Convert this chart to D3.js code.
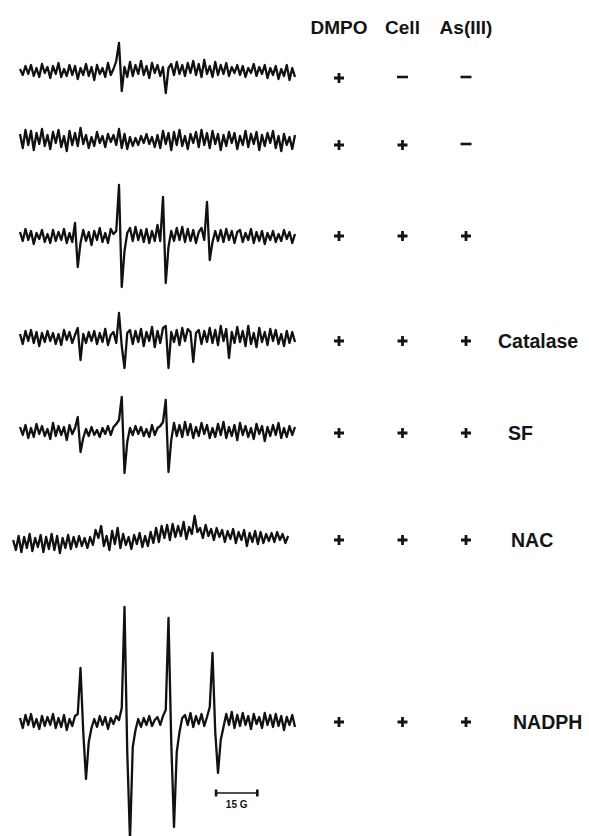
<!DOCTYPE html>
<html>
<head>
<meta charset="utf-8">
<script src="https://cdn.jsdelivr.net/npm/d3@7"></script>
<style>
  body { margin: 0; background: #fff; }
  text { font-family: "Liberation Sans", Arial, Helvetica, sans-serif; font-weight: bold; fill: #141414; }
</style>
</head>
<body>
<svg id="esr"></svg>
<script>
// ESR spectra (DMPO spin trap), signal, one value per gauss (0..100 G)
const trace1 = [
  2, -4, 5, -3, 6, -5, 3, -6, 7, -2,
  4, -7, 5, -3, 8, -6, 2, -5, 6, -4,
  5, -8, 3, -4, 7, -5, 4, -9, 6, -3,
  3, -6, 8, -4, 2, 10, 28, -20, 4, -6,
  9, -5, 6, -3, 10, -4, 5, -7, 8, -2,
  6, -5, 4, -22, 3, 7, -4, 9, -3, 6,
  -5, 8, -2, 10, -4, 7, -6, 11, -3, 5,
  -6, 9, -4, 6, -3, 8, -5, 4, -2, 6,
  -4, 5, -6, 3, -2, 7, -5, 4, -3, 6,
  -7, 3, -4, 5, -8, 2, -5, 6, -9, 3,
  -6
];
const trace2 = [
  6, -8, 10, -5, 9, -10, 7, -4, 11, -6,
  5, -9, 8, -3, 10, -7, 4, -11, 9, -5,
  7, -6, 12, -4, 5, -8, 3, -6, 8, -3,
  4, -7, 6, -2, 5, -5, 11, -8, 6, -9,
  3, -6, 2, -5, 4, -3, 6, -4, 3, -7,
  5, -8, 9, -4, 7, -10, 8, -5, 10, -6,
  4, -9, 6, -3, 8, -7, 10, -5, 7, -8,
  9, -4, 6, -10, 5, -6, 8, -3, 7, -9,
  4, -5, 9, -7, 6, -4, 8, -10, 5, -6,
  7, -3, 9, -8, 4, -11, 6, -5, 3, -9,
  5
];
const trace3 = [
  5, -4, 8, -3, 6, -7, 4, -2, 7, -5,
  3, -6, 7, -4, 5, -3, 8, -6, 4, -5,
  14, -30, -6, 7, -4, 5, -8, 6, -3, 9,
  -5, 4, -6, 8, 3, 6, 52, -50, -14, 4,
  9, -4, 10, -3, 7, -5, 8, -6, 6, -4,
  12, -4, 40, -46, -10, 6, -4, 9, -3, 10,
  -5, 8, -4, 7, -6, 5, 9, -3, 35, -23,
  -5, 6, -4, 7, -5, 8, -3, 6, -6, 5,
  7, -5, 4, -3, 8, -6, 5, -4, 6, -7,
  4, -3, 6, -5, 3, -4, 7, -2, 5, -6,
  3
];
const trace4 = [
  4, -6, 7, -3, 8, -5, 6, -8, 5, -4,
  7, -3, 5, -6, 4, -7, 8, -2, 6, -5,
  3, 10, -22, 4, -5, 6, -3, 7, -6, 5,
  -4, 9, -7, 3, 6, -5, 25, -8, -30, 5,
  8, -6, 7, -4, 9, -8, 6, -3, 11, -9,
  7, -5, 10, 12, -30, 6, -4, 8, -7, 10,
  -3, 9, 6, -24, 5, 8, -6, 7, -4, 10,
  -5, 8, -7, 12, -3, 9, -20, 6, -5, 11,
  -4, 7, -8, 12, -6, 5, -9, 10, -4, 6,
  -7, 9, -3, 8, -6, 4, -8, 7, -5, 6,
  -4
];
const trace5 = [
  5, -3, 7, -6, 4, -5, 8, -2, 6, -4,
  3, -7, 9, -4, 6, -3, 5, -8, 7, -2,
  4, 15, -20, -6, 3, -4, 5, -3, 2, -5,
  4, -2, 6, -3, 5, 8, 12, 35, -41, -10,
  4, -3, 6, -2, 5, -4, 3, -5, 7, -3,
  4, 6, 10, 32, -40, -8, 9, -4, 7, -5,
  10, -3, 8, -6, 5, -4, 9, -2, 7, -6,
  4, -5, 8, -3, 10, -6, 5, -4, 7, -8,
  9, -3, 6, -5, 4, -7, 8, -2, 6, -9,
  5, -4, 7, -3, 9, -6, 4, -5, 6, -3,
  5
];
const trace6 = [
  0, -10, 4, -12, 3, -8, 6, -11, 2, -7,
  5, -12, 3, -9, 6, -10, 4, -13, 2, -8,
  5, -9, 3, -7, 4, -6, 2, -8, 3, -5,
  10, 2, 14, -6, 4, -10, 9, -4, 12, -8,
  6, -5, 3, -9, 5, -4, 7, -7, 4, -6,
  8, -3, 12, -2, 14, 2, 15, 0, 16, 3,
  14, 4, 18, 1, 13, 6, 24, 8, 12, 2,
  15, 4, 11, 0, 12, 3, 10, -2, 9, 1,
  11, -3, 8, 0, 10, -6, 7, -2, 9, -4,
  8, -3, 6, -1, 7, -2, 8, 0, 6, -3,
  4
];
const trace7 = [
  4, -6, 7, -3, 8, -5, 3, -7, 6, -4,
  5, -3, 8, -6, 4, -5, 7, -8, 3, -4,
  6, 8, 54, -10, -57, -20, -6, 3, -5, 6,
  -3, 5, -7, 4, -2, 6, 2, 14, 115, -30,
  -118, -25, -8, 3, -5, 4, -3, 6, -4, 2,
  5, -3, 6, 12, 104, -20, -105, -30, -10, 4,
  7, -3, 9, -5, 6, -2, 8, -4, 5, 15,
  69, -10, -51, -18, -5, 8, -3, 10, -6, 7,
  -4, 9, -3, 6, -7, 8, -2, 5, -6, 9,
  -3, 7, -5, 8, -4, 6, -8, 5, -3, 7,
  -5
];
const traces = [trace1, trace2, trace3, trace4, trace5, trace6, trace7];
const fieldShift = [0, 0, 0, 0, 0, -2.5, 0];   // gauss, NAC trace sits a bit left

// conditions table
const columns = ["DMPO", "Cell", "As(III)"];
const conditions = [
  ["+", "−", "−"],
  ["+", "+", "−"],
  ["+", "+", "+"],
  ["+", "+", "+"],
  ["+", "+", "+"],
  ["+", "+", "+"],
  ["+", "+", "+"]
];
const extras = ["", "", "", "Catalase", "SF", "NAC", "NADPH"];
const scaleBarGauss = 15;
const scaleBarLabel = "15 G";

// layout
const width = 589, height = 836;
const traceY = [71, 140, 237, 338, 432, 540, 722];
const rowY = [78, 145, 236, 341, 433, 540, 722];
const extraX = [0, 0, 0, 498, 508, 511, 513];

const svg = d3.select("#esr")
    .attr("width", width)
    .attr("height", height);

const x = d3.scaleLinear()
    .domain([0, 100])
    .range([20, 295]);
const y = d3.scaleLinear()
    .domain([-130, 130])
    .range([130, -130]);

const line = d3.line()
    .x(function(d) { return x(d.f); })
    .y(function(d) { return y(d.v); });

traces.forEach(function(t, i) {
    const pts = t.map(function(v, j) { return {f: j + fieldShift[i], v: v}; });
    svg.append("g")
        .attr("transform", "translate(0," + traceY[i] + ")")
        .append("path")
        .datum(pts)
        .attr("d", line)
        .attr("fill", "none")
        .attr("stroke", "#111")
        .attr("stroke-width", 2.3)
        .attr("stroke-linejoin", "round");
});

// column headers and +/- marks
const col = d3.scalePoint()
    .domain(columns)
    .range([339, 466]);

svg.selectAll(".head")
    .data(columns)
    .enter()
    .append("text")
    .attr("class", "head")
    .attr("x", function(d) { return col(d); })
    .attr("y", 34)
    .attr("text-anchor", "middle")
    .attr("font-size", "19px")
    .text(function(d) { return d; });

conditions.forEach(function(row, i) {
    const g = svg.append("g").attr("transform", "translate(0," + rowY[i] + ")");
    row.forEach(function(m, k) {
        const cx = col(columns[k]);
        if (m === "+") {
            g.append("path")
                .attr("d", "M" + (cx - 5) + ",0H" + (cx + 5) + "M" + cx + ",-5V5")
                .attr("stroke", "#141414")
                .attr("stroke-width", 2.8);
        } else {
            g.append("path")
                .attr("d", "M" + (cx - 5.5) + ",-1H" + (cx + 5.5))
                .attr("stroke", "#141414")
                .attr("stroke-width", 2.6);
        }
    });
    if (extras[i]) {
        g.append("text")
            .attr("x", extraX[i])
            .attr("y", 0)
            .attr("dy", "0.36em")
            .attr("font-size", "19.5px")
            .text(extras[i]);
    }
});

// scale bar
const sb0 = 71.3;
const bar = svg.append("g").attr("transform", "translate(0,793)");
bar.append("line")
    .attr("x1", x(sb0)).attr("x2", x(sb0 + scaleBarGauss))
    .attr("stroke", "#141414").attr("stroke-width", 1.6);
[sb0, sb0 + scaleBarGauss].forEach(function(f) {
    bar.append("line")
        .attr("x1", x(f)).attr("x2", x(f))
        .attr("y1", -3.5).attr("y2", 3.5)
        .attr("stroke", "#141414").attr("stroke-width", 2.6);
});
bar.append("text")
    .attr("x", x(sb0 + scaleBarGauss / 2))
    .attr("y", 15)
    .attr("text-anchor", "middle")
    .attr("font-size", "10px")
    .text(scaleBarLabel);
</script>
</body>
</html>
